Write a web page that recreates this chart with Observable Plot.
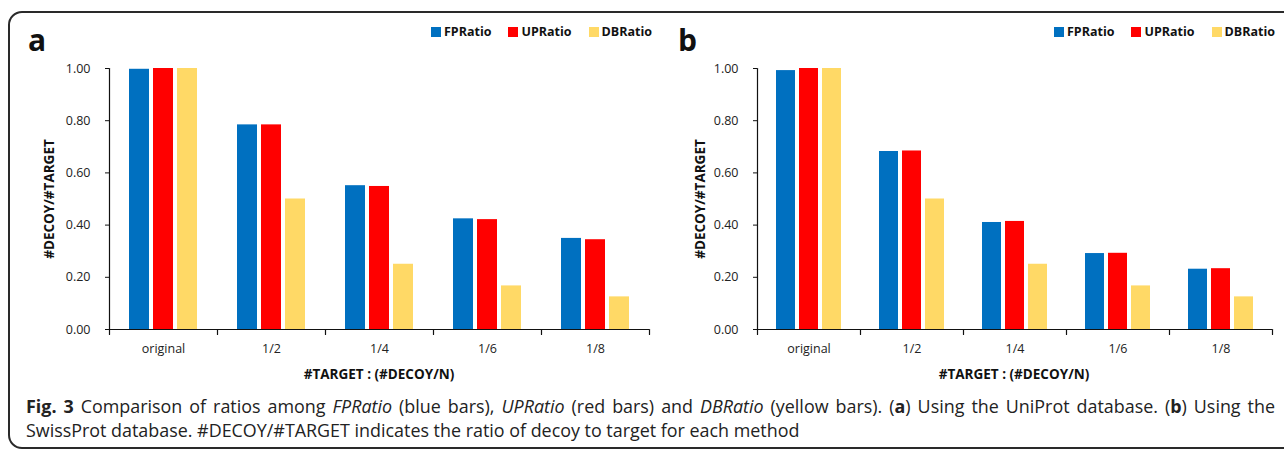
<!DOCTYPE html>
<html><head><meta charset="utf-8">
<script src="https://cdn.jsdelivr.net/npm/d3@7"></script>
<script src="https://cdn.jsdelivr.net/npm/@observablehq/plot@0.6"></script>
<style>
body{margin:0;background:#fff;font-family:"Open Sans",sans-serif;color:#111;}
#root{position:relative;width:1284px;height:451px;overflow:hidden;background:#fff;}
#frame{position:absolute;left:8px;top:11px;width:1320px;height:438px;border:2px solid #2a2a2a;border-radius:14px;box-sizing:border-box;}
.panel{position:absolute;top:0;}
.letter{position:absolute;top:20px;font-weight:bold;font-size:30px;line-height:40px;font-family:"Open Sans",sans-serif;}
.legend{position:absolute;top:24px;display:flex;gap:17px;font-weight:bold;font-size:12.5px;line-height:16px;font-family:"Open Sans",sans-serif;}
.legend .item{display:flex;align-items:center;gap:3px;}
.legend .sw{width:10px;height:10px;display:inline-block;}
.ytitle{position:absolute;top:191px;width:200px;margin-left:-100px;text-align:center;font-weight:bold;font-size:13.5px;line-height:16px;transform:rotate(-90deg);}
.xtitle{position:absolute;top:365px;width:300px;margin-left:-150px;text-align:center;font-weight:bold;font-size:13.5px;line-height:18px;}
#caption{position:absolute;left:26px;top:394px;width:1249px;font-size:17.9px;line-height:24px;color:#222;}
#caption .l1{text-align:justify;text-align-last:justify;white-space:nowrap;}
</style></head>
<body>
<div id="root">
  <div id="frame"></div>
  <div class="panel" id="pa" style="left:0"></div>
  <div class="panel" id="pb" style="left:660px"></div>
  <div class="letter" style="left:28px">a</div>
  <div class="letter" style="left:678px">b</div>
  <div class="legend" id="lga" style="right:632px"></div>
  <div class="legend" id="lgb" style="right:9px"></div>
  <div class="ytitle" style="left:49px">#DECOY/#TARGET</div>
  <div class="ytitle" style="left:700px">#DECOY/#TARGET</div>
  <div class="xtitle" style="left:379px">#TARGET : (#DECOY/N)</div>
  <div class="xtitle" style="left:1014px">#TARGET : (#DECOY/N)</div>
  <div id="caption">
    <div class="l1"><b>Fig. 3</b> Comparison of ratios among <i>FPRatio</i> (blue bars), <i>UPRatio</i> (red bars) and <i>DBRatio</i> (yellow bars). (<b>a</b>) Using the UniProt database. (<b>b</b>) Using the</div>
    <div>SwissProt database. #DECOY/#TARGET indicates the ratio of decoy to target for each method</div>
  </div>
</div>
<script>
const categories = ["original", "1/2", "1/4", "1/6", "1/8"];
const series = ["FPRatio", "UPRatio", "DBRatio"];
const colors = ["#0070C0", "#FF0000", "#FFD966"];
const yTicks = [0, 0.2, 0.4, 0.6, 0.8, 1.0];

// Panel a (UniProt)
const fpA = [0.997, 0.784, 0.551, 0.424, 0.349];
const upA = [1.000, 0.784, 0.548, 0.421, 0.344];
const dbA = [1.000, 0.500, 0.250, 0.167, 0.125];
// Panel b (SwissProt)
const fpB = [0.992, 0.682, 0.410, 0.291, 0.231];
const upB = [1.000, 0.684, 0.414, 0.292, 0.233];
const dbB = [1.000, 0.500, 0.250, 0.167, 0.125];

function rows(vals) {
  return categories.flatMap((c, i) => series.map((s, j) => ({category: c, series: s, value: vals[j][i]})));
}

const lineShape = {draw(context, l) { context.moveTo(0, 0); context.lineTo(0, -l); }};

function panel(vals, width, marginLeft, marginRight) {
  const height = 390, marginTop = 68, marginBottom = 61;
  const data = rows(vals);
  const frameH = height - marginTop - marginBottom;
  return Plot.plot({
    width, height, marginLeft, marginRight, marginTop, marginBottom,
    style: {fontFamily: "'Open Sans', sans-serif", fontSize: "12px", color: "#222", background: "transparent"},
    fx: {domain: categories, padding: 0},
    x: {domain: series, paddingInner: 0.17, paddingOuter: 0.76, axis: null},
    y: {domain: [0, 1], axis: null},
    color: {domain: series, range: colors},
    marks: [
      Plot.barY(data, {fx: "category", x: "series", y: "value", fill: "series"}),
      Plot.ruleY([0], {stroke: "#111", strokeWidth: 1.2}),
      Plot.vector([categories[0]], {fx: d => d, frameAnchor: "bottom-left", anchor: "start", rotate: 0, length: frameH, shape: lineShape, stroke: "#111", strokeWidth: 1.2}),
      Plot.vector(categories, {fx: d => d, frameAnchor: "bottom-left", anchor: "start", rotate: 180, length: 5, shape: lineShape, stroke: "#111", strokeWidth: 1.2}),
      Plot.vector([categories[categories.length - 1]], {fx: d => d, frameAnchor: "bottom-right", anchor: "start", rotate: 180, length: 5, shape: lineShape, stroke: "#111", strokeWidth: 1.2}),
      Plot.axisY({ticks: yTicks, tickFormat: d3.format(".2f"), tickSize: 4, tickPadding: 15, label: null, stroke: "#111", fontSize: 12.5}),
      Plot.axisFx({anchor: "bottom", tickSize: 0, tickPadding: 15, label: null, fontSize: 12.5})
    ]
  });
}

document.getElementById("pa").append(panel([fpA, upA, dbA], 660, 107, 9));
document.getElementById("pb").append(panel([fpB, upB, dbB], 624, 95, 11));

for (const id of ["lga", "lgb"]) {
  const lg = document.getElementById(id);
  series.forEach((s, i) => {
    const it = document.createElement("div");
    it.className = "item";
    it.innerHTML = `<span class="sw" style="background:${colors[i]}"></span><span>${s}</span>`;
    lg.append(it);
  });
}
</script>
</body></html>
